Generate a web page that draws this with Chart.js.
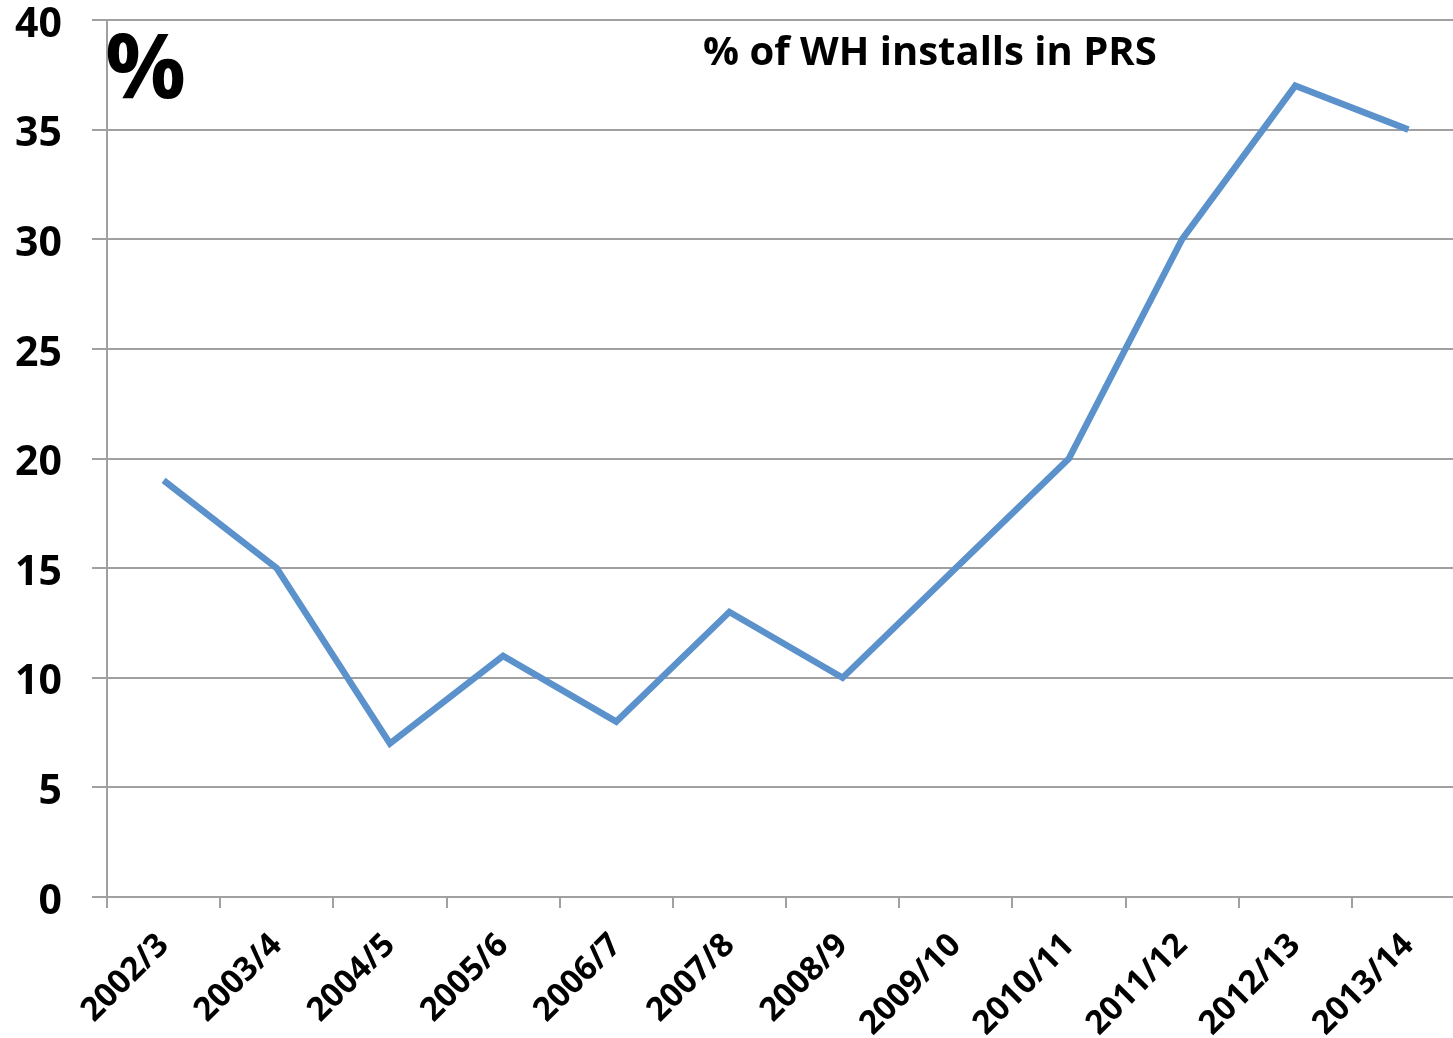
<!DOCTYPE html>
<html>
<head>
<meta charset="utf-8">
<script src="https://cdn.jsdelivr.net/npm/chart.js@4"></script>
<style>
  html, body { margin: 0; padding: 0; overflow: hidden; background: #fff; }
  canvas { display: block; }
</style>
</head>
<body>
<canvas id="chart" width="1465" height="1038"></canvas>
<script>
const years = ['2002/3', '2003/4', '2004/5', '2005/6', '2006/7', '2007/8',
               '2008/9', '2009/10', '2010/11', '2011/12', '2012/13', '2013/14'];
const whInPrs = [19, 15, 7, 11, 8, 13, 10, 15, 20, 30, 37, 35];
const titleText = '% of WH installs in PRS';
const unitText = '%';

const fontFamily = '"Open Sans", "DejaVu Sans", sans-serif';

// titre et signe % dans la zone du graphique
const textPlugin = {
    id: 'innerText',
    afterDraw(chart) {
        const c = chart.ctx;
        c.save();
        c.fillStyle = '#000';
        c.textBaseline = 'alphabetic';
        c.textAlign = 'left';
        c.font = 'bold 90px ' + fontFamily;
        c.fillText(unitText, 105, 98);
        c.font = 'bold 40px ' + fontFamily;
        c.fillText(titleText, 703, 65);
        c.restore();
    }
};

const ctx = document.getElementById('chart').getContext('2d');
const chart = new Chart(ctx, {
    type: 'line',
    data: {
        labels: years,
        datasets: [{
            label: titleText,
            data: whInPrs,
            borderColor: '#5B92CC',
            borderWidth: 6.5,
            pointRadius: 0,
            tension: 0,
            fill: false
        }]
    },
    options: {
        responsive: false,
        animation: false,
        layout: { padding: { top: 20, left: 0, right: 0, bottom: 0 } },
        plugins: {
            legend: { display: false },
            tooltip: { enabled: false }
        },
        scales: {
            x: {
                offset: true,
                grid: {
                    offset: true,
                    drawOnChartArea: false,
                    drawTicks: true,
                    tickLength: 11,
                    color: '#A0A0A0',
                    lineWidth: 2
                },
                border: { color: '#A0A0A0', width: 2 },
                ticks: {
                    color: '#000',
                    font: { family: fontFamily, size: 33, weight: 'bold' },
                    minRotation: 45,
                    maxRotation: 45,
                    padding: 18,
                    autoSkip: false
                },
                afterFit(scale) { scale.height = 141; }
            },
            y: {
                min: 0,
                max: 40,
                ticks: {
                    stepSize: 5,
                    color: '#000',
                    font: { family: fontFamily, size: 41, weight: 'bold' },
                    padding: 30,
                    labelOffset: 5
                },
                grid: {
                    color: '#A0A0A0',
                    lineWidth: 2,
                    tickLength: 15
                },
                border: { color: '#A0A0A0', width: 2 },
                afterFit(scale) {
                    scale.width = 107;
                    scale.paddingTop = 0;
                    scale.paddingBottom = 0;
                }
            }
        }
    },
    plugins: [textPlugin]
});
</script>
</body>
</html>
